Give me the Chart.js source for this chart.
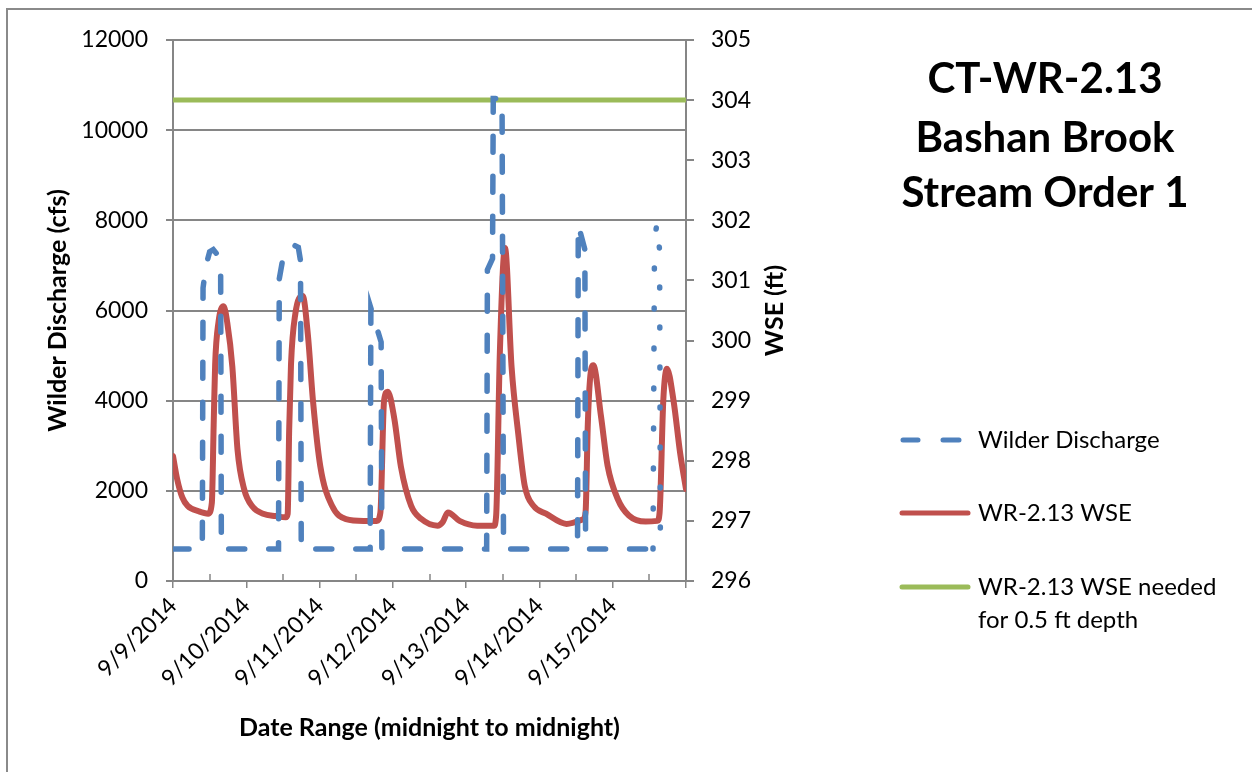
<!DOCTYPE html>
<html>
<head>
<meta charset="utf-8">
<title>CT-WR-2.13 Bashan Brook</title>
<script src="https://cdn.jsdelivr.net/npm/chart.js@4/dist/chart.umd.min.js"></script>
<style>
  html, body { margin: 0; padding: 0; background: #fff; }
  #wrap { position: relative; width: 1252px; height: 772px; overflow: hidden; }
</style>
</head>
<body>
<div id="wrap"><canvas id="chart" width="1252" height="772"></canvas></div>
<script>
// day labels (x = days since 9/9/2014 00:00)
const dateLabels = ['9/9/2014', '9/10/2014', '9/11/2014', '9/12/2014', '9/13/2014', '9/14/2014', '9/15/2014'];

// Wilder Dam discharge (cfs)
const flowDays = [0, 0.40, 0.41, 0.45, 0.50, 0.55, 0.60, 0.65, 0.66,
  1.44, 1.45, 1.51, 1.57, 1.65, 1.71, 1.74, 1.75,
  2.69, 2.70, 2.84, 2.85,
  4.28, 4.29, 4.36, 4.37, 4.49, 4.51,
  5.52, 5.53, 5.62, 5.63,
  6.55, 6.57, 6.61, 6.64, 6.65];
const flowCfs = [710, 710, 6500, 7000, 7300, 7350, 7250, 7000, 710,
  710, 6700, 7250, 7350, 7450, 7400, 7100, 710,
  710, 6050, 5300, 710,
  710, 6900, 7150, 10700, 10700, 710,
  710, 7900, 7350, 710,
  710, 7500, 8050, 7300, 950];

// water surface elevation at WR-2.13 (ft)
const wseDays = [0, 0.056, 0.127, 0.2, 0.35, 0.48, 0.53, 0.555, 0.575, 0.62, 0.69, 0.74, 0.81, 0.88, 0.97, 1.09, 1.23, 1.40,
  1.54, 1.565, 1.585, 1.61, 1.67, 1.77, 1.84, 1.91, 2.01, 2.17, 2.36, 2.60, 2.78,
  2.83, 2.88, 2.93, 3.02, 3.11, 3.25, 3.39, 3.61, 3.68, 3.75, 3.91, 4.15, 4.38,
  4.41, 4.46, 4.53, 4.62, 4.71, 4.80, 4.92, 5.09, 5.37, 5.60,
  5.63, 5.66, 5.69, 5.735, 5.84, 5.93, 6.07, 6.22, 6.45, 6.61,
  6.64, 6.69, 6.74, 6.83, 6.92, 7.0];
const wseFeet = [298.08, 297.70, 297.39, 297.25, 297.16, 297.12, 297.3, 298.6, 299.6, 300.3, 300.57, 300.3, 299.56, 298.19, 297.53, 297.23, 297.12, 297.08,
  297.06, 297.12, 298.5, 299.6, 300.45, 300.74, 300.1, 299.0, 297.91, 297.25, 297.03, 297.0, 297.0,
  297.14, 299.0, 299.15, 298.7, 297.9, 297.25, 297.03, 296.92, 296.98, 297.14, 297.0, 296.92, 296.92,
  297.1, 299.8, 301.54, 299.56, 298.46, 297.58, 297.25, 297.12, 296.95, 297.03,
  297.15, 298.6, 299.35, 299.59, 298.74, 297.92, 297.36, 297.09, 296.99, 297.0,
  297.14, 299.0, 299.53, 299.0, 298.13, 297.53];

// WSE needed for 0.5 ft depth
const neededDays = [0, 7];
const neededFeet = [304, 304];

const BLUE = '#4F81BD', RED = '#C0504D', GREEN = '#9BBB59', GRID = '#868686';
const FONT = 'Lato';

Chart.defaults.font.family = FONT;
Chart.defaults.color = '#000';

const pts = (xs, ys) => xs.map((x, i) => ({ x: x, y: ys[i] }));

const decor = {
  id: 'decor',
  beforeDraw(chart) {
    const ctx = chart.ctx;
    ctx.save();
    ctx.fillStyle = '#fff';
    ctx.fillRect(0, 0, chart.width, chart.height);
    ctx.strokeStyle = '#8a8a8a';
    ctx.lineWidth = 2;
    ctx.strokeRect(7, 9, chart.width + 40, chart.height + 40);
    ctx.restore();
  },
  beforeDatasetsDraw(chart) {
    // half-day minor ticks point into the plot
    const ctx = chart.ctx, xs = chart.scales.x, bottom = chart.chartArea.bottom;
    ctx.save();
    ctx.strokeStyle = GRID;
    ctx.lineWidth = 1.5;
    for (let d = 0.5; d < 7; d += 1) {
      const px = Math.round(xs.getPixelForValue(d));
      ctx.beginPath();
      ctx.moveTo(px, bottom);
      ctx.lineTo(px, bottom - 7);
      ctx.stroke();
    }
    ctx.restore();
  },
  afterDraw(chart) {
    const ctx = chart.ctx;
    const area = chart.chartArea;
    ctx.save();
    ctx.fillStyle = '#000';

    // right axis title reads bottom-to-top
    ctx.save();
    ctx.translate(775, (area.top + area.bottom) / 2);
    ctx.rotate(-Math.PI / 2);
    ctx.font = 'bold 25px ' + FONT;
    ctx.textAlign = 'center';
    ctx.textBaseline = 'middle';
    ctx.fillText('WSE (ft)', 0, 0);
    ctx.restore();

    // chart title
    ctx.font = 'bold 42px ' + FONT;
    ctx.textAlign = 'center';
    ctx.textBaseline = 'alphabetic';
    ctx.fillText('CT-WR-2.13', 1045, 93);
    ctx.fillText('Bashan Brook', 1045, 152);
    ctx.fillText('Stream Order 1', 1045, 207);

    // legend
    ctx.lineCap = 'round';
    ctx.lineWidth = 5;
    ctx.strokeStyle = BLUE;
    ctx.beginPath();
    ctx.moveTo(903, 440); ctx.lineTo(918, 440);
    ctx.moveTo(943, 440); ctx.lineTo(959, 440);
    ctx.stroke();
    ctx.strokeStyle = RED;
    ctx.beginPath(); ctx.moveTo(902, 513); ctx.lineTo(968, 513); ctx.stroke();
    ctx.strokeStyle = GREEN;
    ctx.beginPath(); ctx.moveTo(902, 587); ctx.lineTo(968, 587); ctx.stroke();

    ctx.font = '24px ' + FONT;
    ctx.textAlign = 'left';
    ctx.textBaseline = 'middle';
    ctx.fillText('Wilder Discharge', 978, 440);
    ctx.fillText('WR-2.13 WSE', 978, 513);
    ctx.fillText('WR-2.13 WSE needed', 978, 587);
    ctx.fillText('for 0.5 ft depth', 978, 620);
    ctx.restore();
  }
};

new Chart(document.getElementById('chart'), {
  type: 'line',
  data: {
    datasets: [
      {
        label: 'Wilder Discharge',
        data: pts(flowDays, flowCfs),
        yAxisID: 'y',
        borderColor: BLUE,
        borderWidth: 5.5,
        borderDash: [16, 24],
        borderCapStyle: 'round',
        pointRadius: 0,
        tension: 0,
        segment: {
          // the last release is logged densely and renders as dots
          borderDash: c => (c.p0.parsed.x >= 6.5 ? [1, 39] : undefined)
        }
      },
      {
        label: 'WR-2.13 WSE',
        data: pts(wseDays, wseFeet),
        yAxisID: 'y2',
        borderColor: RED,
        borderWidth: 6,
        borderCapStyle: 'round',
        borderJoinStyle: 'round',
        cubicInterpolationMode: 'monotone',
        pointRadius: 0
      },
      {
        label: 'WR-2.13 WSE needed for 0.5 ft depth',
        data: pts(neededDays, neededFeet),
        yAxisID: 'y2',
        borderColor: GREEN,
        borderWidth: 5,
        pointRadius: 0
      }
    ]
  },
  options: {
    responsive: false,
    animation: false,
    devicePixelRatio: 1,
    layout: { padding: { top: 40, left: 0, right: 0, bottom: 0 } },
    plugins: { legend: { display: false }, tooltip: { enabled: false } },
    scales: {
      x: {
        type: 'linear',
        min: 0,
        max: 7,
        afterFit: s => { s.height = 191; },
        ticks: {
          stepSize: 1,
          autoSkip: false,
          minRotation: 45,
          maxRotation: 45,
          padding: 4,
          font: { size: 23 },
          callback: v => dateLabels[v] || ''
        },
        grid: { drawOnChartArea: false, tickLength: 7, color: GRID, lineWidth: 1.5 },
        border: { color: GRID, width: 2 },
        title: {
          display: true,
          text: 'Date Range (midnight to midnight)',
          font: { size: 25, weight: 'bold' },
          padding: { top: 0, bottom: 29 }
        }
      },
      y: {
        position: 'left',
        min: 0,
        max: 12000,
        afterFit: s => { s.width = 173; },
        ticks: { stepSize: 2000, padding: 18, font: { size: 23 }, callback: v => String(v) },
        grid: { color: GRID, lineWidth: 2, tickLength: 7 },
        border: { color: GRID, width: 2 },
        title: {
          display: true,
          text: 'Wilder Discharge (cfs)',
          font: { size: 25, weight: 'bold' },
          padding: { top: 43, bottom: 0 }
        }
      },
      y2: {
        position: 'right',
        min: 296,
        max: 305,
        afterFit: s => { s.width = 566; },
        ticks: { stepSize: 1, padding: 17, font: { size: 23 } },
        grid: { drawOnChartArea: false, color: GRID, lineWidth: 2, tickLength: 8 },
        border: { color: GRID, width: 2 }
      }
    }
  },
  plugins: [decor]
});
</script>
</body>
</html>
